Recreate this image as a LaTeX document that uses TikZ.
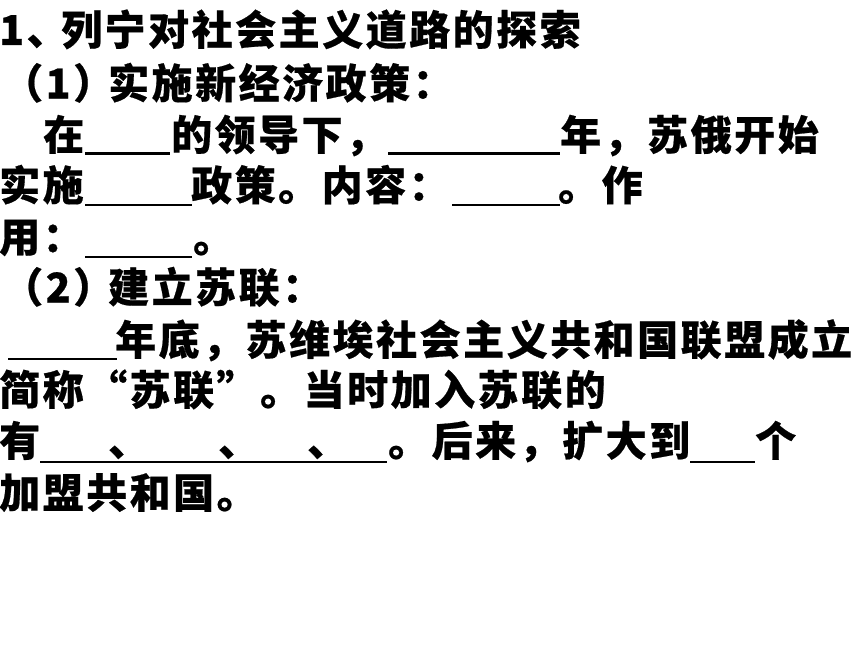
\documentclass[tikz,border=0pt]{standalone}
\usepackage{fontspec}
\newfontfamily\cjk{Noto Sans CJK SC}[LetterSpace=6.1,BoldFeatures={FakeBold=0.5}]
\begin{document}
\begin{tikzpicture}[x=1pt,y=-1pt,
  txt/.style={anchor=base west, inner sep=0pt, font={\cjk\fontsize{41}{41}\selectfont\bfseries}},
  blank/.style={line width=2.5pt}]
\useasboundingbox[fill=white] (0,0) rectangle (860,645);
% line 1
\node[txt] (l1a) at (-1,45) {1、};
\node[txt] (l1b) at (61,45) {列宁对社会主义道路的探索};
% line 2
\node[txt] (l2a) at (2,98.5) {（1）};
\node[txt] (l2b) at (108,98.5) {实施新经济政策：};
% line 3
\node[txt] (l3a) at (43,150) {在};
\draw[blank] (85,153.5) -- (170,153.5);
\node[txt] (l3b) at (171,150) {的领导下，};
\draw[blank] (388,153.5) -- (560,153.5);
\node[txt] (l3c) at (560,150) {年，苏俄开始};
% line 4
\node[txt] (l4a) at (-1,200.5) {实施};
\draw[blank] (85,205) -- (192,205);
\node[txt] (l4b) at (191,200.5) {政策。内容：};
\draw[blank] (452,205) -- (560,205);
\node[txt] (l4c) at (558,200.5) {。作};
% line 5
\node[txt] (l5a) at (-1,252) {用：};
\draw[blank] (85,257) -- (192,257);
\node[txt] (l5b) at (193,252) {。};
% line 6
\node[txt] (l6a) at (2,302.5) {（2）};
\node[txt] (l6b) at (108,302.5) {建立苏联：};
% line 7
\draw[blank] (8,359) -- (117,359);
\node[txt] (l7a) at (115,355) {年底，苏维埃社会主义共和国联盟成立，};
% line 8
\node[txt] (l8a) at (-1,405) {简称“苏联”。当时加入苏联的};
% line 9
\node[txt] (l9a) at (-1,456) {有};
\draw[blank] (40,462) -- (387,462);
\node[txt] (l9b) at (108,456) {、};
\node[txt] (l9c) at (218,456) {、};
\node[txt] (l9d) at (307,456) {、};
\node[txt] (l9e) at (388,456) {。后来，扩大到};
\draw[blank] (690,462) -- (755,462);
\node[txt] (l9f) at (755,456) {个};
% line 10
\node[txt] (l10a) at (-1,508) {加盟共和国。};
\end{tikzpicture}
\end{document}
